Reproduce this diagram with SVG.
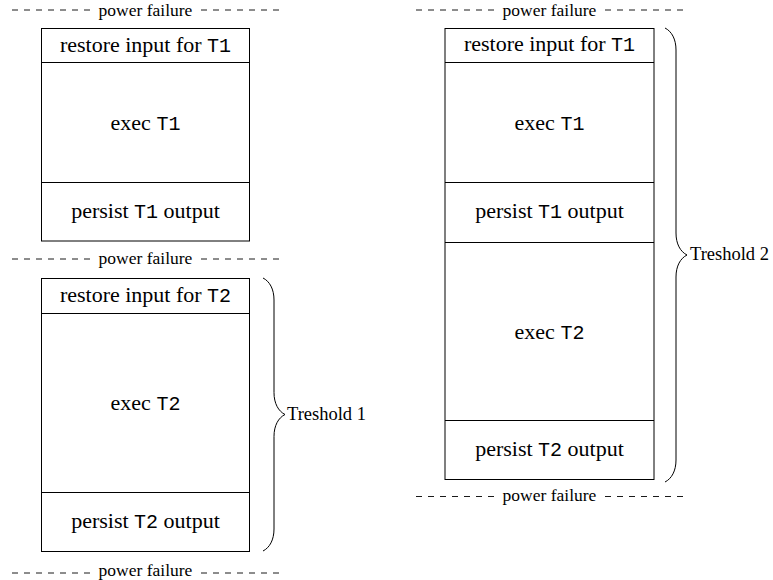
<svg xmlns="http://www.w3.org/2000/svg" width="773" height="580" viewBox="0 0 773 580">
<style>
  .box { fill: #fff; stroke: #000; stroke-width: 1; }
  .div { stroke: #000; stroke-width: 1; fill: none; }
  text { font-family: "Liberation Serif", "Times New Roman", serif; fill: #000; }
  .lbl { font-size: 22px; text-anchor: middle; }
  tspan.tt { font-family: "Liberation Mono", "Courier New", monospace; font-size: 20px; }
  .pf { font-size: 17.5px; text-anchor: middle; }
  .dash { stroke: #000; stroke-width: 0.9; stroke-dasharray: 6 6; fill: none; }
  .brace { stroke: #000; stroke-width: 1; fill: none; }
  .th { font-size: 18.5px; }
</style>

<g id="failures">
  <g id="pf-left-top">
    <line class="dash" x1="12" y1="10" x2="90" y2="10"/>
    <line class="dash" x1="201" y1="10" x2="279" y2="10"/>
    <text class="pf" x="145.5" y="15.5">power failure</text>
  </g>
  <g id="pf-left-mid">
    <line class="dash" x1="12" y1="259" x2="90" y2="259"/>
    <line class="dash" x1="201" y1="259" x2="279" y2="259"/>
    <text class="pf" x="145.5" y="263.5">power failure</text>
  </g>
  <g id="pf-left-bot">
    <line class="dash" x1="12" y1="573" x2="90" y2="573"/>
    <line class="dash" x1="201" y1="573" x2="279" y2="573"/>
    <text class="pf" x="145.5" y="576">power failure</text>
  </g>
  <g id="pf-right-top">
    <line class="dash" x1="416" y1="10" x2="494" y2="10"/>
    <line class="dash" x1="605" y1="10" x2="683" y2="10"/>
    <text class="pf" x="549.5" y="15.5">power failure</text>
  </g>
  <g id="pf-right-bot">
    <line class="dash" x1="416" y1="496.5" x2="494" y2="496.5"/>
    <line class="dash" x1="605" y1="496.5" x2="683" y2="496.5"/>
    <text class="pf" x="549.5" y="501">power failure</text>
  </g>
</g>

<g id="task-T1-left">
  <rect class="box" x="41.5" y="28.5" width="208" height="212.5"/>
  <line class="div" x1="41.5" y1="62.5" x2="249.5" y2="62.5"/>
  <line class="div" x1="41.5" y1="182.5" x2="249.5" y2="182.5"/>
  <text class="lbl" x="145.5" y="51.5">restore input for <tspan class="tt">T1</tspan></text>
  <text class="lbl" x="145.5" y="129.5">exec <tspan class="tt">T1</tspan></text>
  <text class="lbl" x="145.5" y="217.5">persist <tspan class="tt">T1</tspan> output</text>
</g>

<g id="task-T2-left">
  <rect class="box" x="41.5" y="278.5" width="208" height="273"/>
  <line class="div" x1="41.5" y1="313.5" x2="249.5" y2="313.5"/>
  <line class="div" x1="41.5" y1="492.5" x2="249.5" y2="492.5"/>
  <text class="lbl" x="145.5" y="301.5">restore input for <tspan class="tt">T2</tspan></text>
  <text class="lbl" x="145.5" y="410">exec <tspan class="tt">T2</tspan></text>
  <text class="lbl" x="145.5" y="528">persist <tspan class="tt">T2</tspan> output</text>
</g>

<g id="tasks-right">
  <rect class="box" x="445" y="28.5" width="209" height="451"/>
  <line class="div" x1="445" y1="62.5" x2="654" y2="62.5"/>
  <line class="div" x1="445" y1="182.5" x2="654" y2="182.5"/>
  <line class="div" x1="445" y1="242.5" x2="654" y2="242.5"/>
  <line class="div" x1="445" y1="420.5" x2="654" y2="420.5"/>
  <text class="lbl" x="549.5" y="51">restore input for <tspan class="tt">T1</tspan></text>
  <text class="lbl" x="549.5" y="129.5">exec <tspan class="tt">T1</tspan></text>
  <text class="lbl" x="549.5" y="218">persist <tspan class="tt">T1</tspan> output</text>
  <text class="lbl" x="549.5" y="338.5">exec <tspan class="tt">T2</tspan></text>
  <text class="lbl" x="549.5" y="456">persist <tspan class="tt">T2</tspan> output</text>
</g>

<g id="threshold-1">
  <path class="brace" d="M 263 278 C 269.6 281.3, 274 289, 274 300 L 274 392.5 C 274 403.5, 278.4 411.2, 285 414.5 C 278.4 417.8, 274 425.5, 274 436.5 L 274 529 C 274 540, 269.6 547.7, 263 551"/>
  <text class="th" x="287" y="419.5">Treshold 1</text>
</g>

<g id="threshold-2">
  <path class="brace" d="M 665 28 C 671.6 31.3, 676 39, 676 50 L 676 233 C 676 244, 680.4 251.7, 687 255 C 680.4 258.3, 676 266, 676 277 L 676 460 C 676 471, 671.6 478.7, 665 482"/>
  <text class="th" x="690" y="260">Treshold 2</text>
</g>
</svg>
